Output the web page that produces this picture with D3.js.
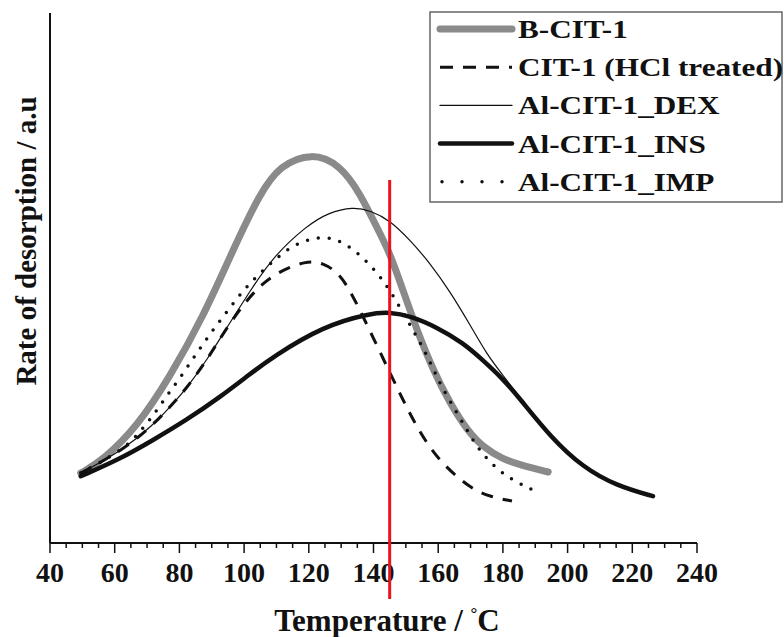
<!DOCTYPE html>
<html>
<head>
<meta charset="utf-8">
<script src="https://cdn.jsdelivr.net/npm/d3@7"></script>
<style>
  body { margin: 0; background: #fff; }
  text { font-family: "Liberation Serif", "Times New Roman", serif; font-weight: bold; fill: #111; }
</style>
</head>
<body>
<div id="chart"></div>
<script>
// values: [temperature in C, rate in a.u.]
var bCit1 = [[49.5,13.0],[56.4,15.4],[66.9,21.6],[77.1,30.9],[87.3,42.0],[96.6,54.5],[104.9,65.0],[111.1,70.2],[121,72.6],[129.6,70.3],[135.8,65.1],[142,57.5],[145.1,53.8],[149.1,47.0],[153.4,39.6],[158.4,32.2],[163.6,26.0],[168.9,21.0],[173.8,17.8],[180,15.6],[185.3,14.5],[194,13.2]];
var hclCit1 = [[49.5,13.0],[62.6,17.3],[71.8,21.9],[77.1,25.3],[82.3,28.8],[88.5,34.0],[94.7,40.1],[101.8,46.0],[108.9,50.0],[119.4,52.6],[124.5,52.0],[128.7,50.4],[131.5,48.2],[135,44.3],[139.8,38.3],[145.1,31.6],[149.1,26.6],[154.4,20.4],[160.6,15.0],[169.8,10.2],[176,8.6],[182.8,7.8]];
var dexCit1 = [[49.5,13.0],[62.6,17.3],[71.8,21.9],[77.1,25.3],[82.3,28.8],[88.5,34.0],[94.7,40.1],[101.8,46.8],[108.9,53.2],[119.4,59.0],[126,61.4],[133.7,62.5],[139,61.8],[145.1,60.0],[151.3,56.3],[157.5,52.0],[163.6,46.8],[169.8,40.6],[175.1,35.0],[180,31.2],[185.3,27.0],[194.6,19.8],[204.8,14.0],[215.3,10.6],[226.4,8.7]];
var insCit1 = [[49.5,12.4],[61.6,15.6],[71.8,19.1],[82.3,22.9],[92.5,27.1],[101.8,31.4],[108.9,34.6],[124.4,40.3],[139,42.7],[145.1,42.9],[151.3,42.2],[159.6,40.1],[167.7,37.2],[173.8,34.0],[180,30.5],[185.3,26.8],[194.6,19.8],[204.8,14.0],[215.3,10.6],[226.4,8.7]];
var impCit1 = [[49.5,13.0],[62.6,17.3],[67.8,20.6],[72.5,24.2],[76.5,27.7],[80.8,31.2],[84.8,34.8],[88.8,38.3],[93.2,41.8],[97.8,45.5],[102.7,48.9],[108.6,52.2],[114.2,55.0],[120.4,56.6],[126.2,57.0],[132.1,55.4],[138,52.4],[142.9,48.9],[146.6,45.5],[153.4,38.3],[156.5,34.9],[159,31.6],[162.1,27.9],[165.8,24.2],[168.9,21.0],[172.3,17.5],[178.2,13.6],[184.4,11.2],[190.5,9.5]];

var seriesNames = ["B-CIT-1", "CIT-1 (HCl treated)", "Al-CIT-1_DEX", "Al-CIT-1_INS", "Al-CIT-1_IMP"];
var seriesData = [bCit1, hclCit1, dexCit1, insCit1, impCit1];
var xTicks = [40, 60, 80, 100, 120, 140, 160, 180, 200, 220, 240];
var markerTemp = 145;

var styles = [
  { stroke: "#8a8a8a", width: 7, dash: null, cap: "round" },
  { stroke: "#111", width: 3, dash: "12,10", cap: "butt" },
  { stroke: "#111", width: 1.2, dash: null, cap: "round" },
  { stroke: "#111", width: 4.5, dash: null, cap: "round" },
  { stroke: "#111", width: 3.5, dash: "0,11", cap: "round" }
];

var W = 784, H = 637;
var svg = d3.select("#chart").append("svg")
    .attr("width", W)
    .attr("height", H);

var x = d3.scaleLinear().domain([40, 240]).range([50, 697]);
var y = d3.scaleLinear().domain([0, 100]).range([543, 5]);

// x axis with minor ticks every 5
var xAxis = svg.append("g")
    .attr("transform", "translate(0," + y(0) + ")");
xAxis.append("line")
    .attr("x1", x(40)).attr("x2", x(240))
    .attr("stroke", "#111").attr("stroke-width", 2);
xAxis.selectAll(".minor")
    .data(d3.range(40, 241, 5))
    .join("line")
    .attr("x1", function (d) { return x(d); })
    .attr("x2", function (d) { return x(d); })
    .attr("y1", 0)
    .attr("y2", function (d) { return d % 20 === 0 ? 10 : 5; })
    .attr("stroke", "#111")
    .attr("stroke-width", 1.5);
xAxis.selectAll(".lab")
    .data(xTicks)
    .join("text")
    .attr("x", function (d) { return x(d); })
    .attr("y", 39)
    .attr("text-anchor", "middle")
    .attr("font-size", 28)
    .text(function (d) { return d; });

// y axis, no ticks
svg.append("line")
    .attr("x1", x(40)).attr("x2", x(40))
    .attr("y1", y(0)).attr("y2", 13)
    .attr("stroke", "#111").attr("stroke-width", 2);

// axis titles
var xt = svg.append("text")
    .attr("x", 387)
    .attr("y", 631)
    .attr("text-anchor", "middle")
    .attr("font-size", 31);
xt.append("tspan").text("Temperature / ");
xt.append("tspan").attr("font-size", 17).attr("dy", -12).text("\u00b0");
xt.append("tspan").attr("dy", 12).text("C");

svg.append("text")
    .attr("transform", "translate(36,241) rotate(-90)")
    .attr("text-anchor", "middle")
    .attr("font-size", 29)
    .text("Rate of desorption / a.u");

// curves (B-spline to keep them smooth like the original)
var line = d3.line()
    .x(function (d) { return x(d[0]); })
    .y(function (d) { return y(d[1]); })
    .curve(d3.curveBasis);

svg.append("g").selectAll("path")
    .data(seriesData)
    .join("path")
    .attr("d", line)
    .attr("fill", "none")
    .attr("stroke", function (d, i) { return styles[i].stroke; })
    .attr("stroke-width", function (d, i) { return styles[i].width; })
    .attr("stroke-dasharray", function (d, i) { return styles[i].dash; })
    .attr("stroke-linecap", function (d, i) { return styles[i].cap; });

// legend
var leg = svg.append("g");
leg.append("rect")
    .attr("x", 430).attr("y", 12)
    .attr("width", 352).attr("height", 190)
    .attr("fill", "#fff")
    .attr("stroke", "#666").attr("stroke-width", 1.5);
var rows = leg.selectAll(".row")
    .data(seriesNames)
    .join("g")
    .attr("transform", function (d, i) { return "translate(0," + (29 + i * 38.2) + ")"; });
rows.append("line")
    .attr("x1", function (d, i) { return i === 4 ? 442 : 440; })
    .attr("x2", 512)
    .attr("y1", 0).attr("y2", 0)
    .attr("stroke", function (d, i) { return styles[i].stroke; })
    .attr("stroke-width", function (d, i) { return styles[i].width; })
    .attr("stroke-dasharray", function (d, i) { return i === 1 ? "13,10" : (i === 4 ? "0,20" : null); })
    .attr("stroke-linecap", function (d, i) { return styles[i].cap; });
rows.append("text")
    .attr("transform", "translate(518,9) scale(1.2,1)")
    .attr("font-size", 26)
    .text(function (d) { return d; });

// red marker line
svg.append("line")
    .attr("x1", x(markerTemp)).attr("x2", x(markerTemp))
    .attr("y1", 180).attr("y2", 599)
    .attr("stroke", "#e8141c")
    .attr("stroke-width", 3);
</script>
</body>
</html>
